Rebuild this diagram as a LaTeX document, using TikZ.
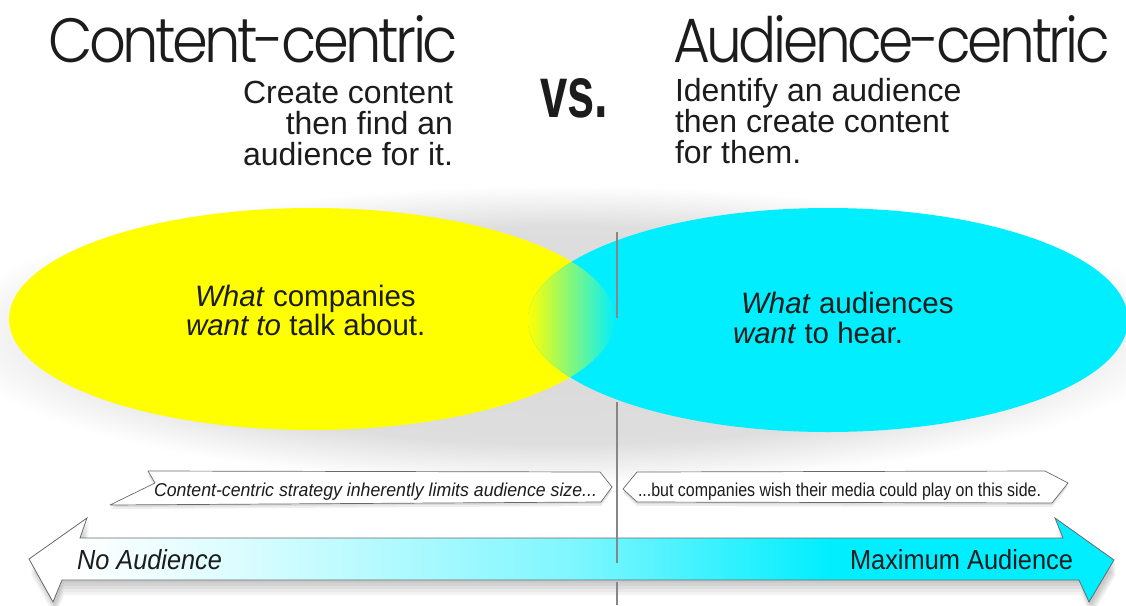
\documentclass[tikz,border=0pt]{standalone}
\usepackage{fontspec}
\setmainfont{Liberation Sans}
\newfontfamily\titlefont[LetterSpace=-6, UprightFont=* Light]{Poppins}
\usetikzlibrary{calc}
\definecolor{yel}{RGB}{255,255,0}
\definecolor{cya}{RGB}{0,238,255}
\definecolor{rim}{RGB}{105,105,105}
\definecolor{ink}{RGB}{28,28,28}
\pgfdeclareradialshading{halo}{\pgfpoint{0bp}{0bp}}{color(0bp)=(black!15); color(18bp)=(black!13); color(25bp)=(white); color(50bp)=(white)}
\pgfdeclarehorizontalshading{barshade}{100bp}{color(0bp)=(white); color(27bp)=(white); color(35bp)=(white!85!cya); color(50bp)=(white!50!cya); color(62bp)=(cya); color(100bp)=(cya)}
\tikzset{
  txt/.style={inner sep=0pt, outer sep=0pt, text=ink},
  sub/.style={txt, font=\fontsize{32}{31}\selectfont},
  blob/.style={txt, font=\fontsize{29.5}{30}\selectfont},
  vline/.style={draw=rim!80, line width=1.4pt},
  callout/.style={fill=white, draw=rim, line width=0.7pt, line join=round},
  calloutshadow/.style={fill=black, opacity=0.07},
  bigarrow/.style={shading=barshade, draw=rim, line width=0.8pt, line join=miter},
  arrowshadow/.style={fill=black, opacity=0.045}
}
\begin{document}
\begin{tikzpicture}[x=1pt, y=-1pt]
\useasboundingbox (0,0) rectangle (1126,605);
\fill[white] (0,0) rectangle (1126,605);

% soft shadow behind the ellipses
\shade[shading=halo] (563,335) ellipse [x radius=620pt, y radius=150pt];

% titles
\node[txt, anchor=base west] (t1) at (48,62) {\resizebox{410pt}{47pt}{\titlefont Content-centric}};
\node[txt, anchor=base west] (t2) at (673,62) {\resizebox{437pt}{47pt}{\titlefont Audience-centric}};
\node[txt, anchor=base west] (vs) at (540,117) {\resizebox{68pt}{39pt}{\bfseries vs.}};

% subtitles (base = last line)
\node[sub, anchor=base east, align=right] (lsub) at (453,165) {Create content\\then find an\\audience for it.};
\node[sub, anchor=base west, align=left] (rsub) at (675,163) {Identify an audience\\then create content\\for them.};

% ellipses
\fill[yel] (312,319) ellipse [x radius=303pt, y radius=111pt];
\fill[cya] (828,320) ellipse [x radius=300pt, y radius=112pt];
\begin{scope}
  \clip (312,319) ellipse [x radius=303pt, y radius=111pt];
  \clip (828,320) ellipse [x radius=300pt, y radius=112pt];
  \shade[left color=yel, right color=cya] (528,200) rectangle (616,440);
\end{scope}

% divider
\coordinate (v1) at (617,232);
\coordinate (v2) at (617,318);
\coordinate (v3) at (617,402);
\coordinate (v4) at (617,563);
\coordinate (v5) at (617,582);
\coordinate (v6) at (617,605);

% ellipse texts
\node[blob, anchor=base west] (y1) at (195,306) {\itshape What\/ \upshape companies};
\node[blob, anchor=base west] (y2) at (186,335) {\itshape want to\/ \upshape talk about.};
\node[blob, anchor=base west] (c1) at (741,313) {\itshape What\/ \upshape audiences};
\node[blob, anchor=base west] (c2) at (733,343) {\itshape want\/ \upshape to hear.};

% callouts
\foreach \s in {2,4}{
  \fill[calloutshadow, shift={(0,\s)}] (148,471) -- (600,472) -- (612,487) -- (601,502) -- (110,505) -- (155,483) -- cycle;
  \fill[calloutshadow, shift={(0,\s)}] (623,489) -- (637,472) -- (1045,471) -- (1068,483) -- (1052,503) -- (637,502) -- cycle;
}
\draw[callout] (148,471) -- (600,472) -- (612,487) -- (601,502) -- (110,505) -- (155,483) -- cycle;
\draw[callout] (623,489) -- (637,472) -- (1045,471) -- (1068,483) -- (1052,503) -- (637,502) -- cycle;
\node[txt, anchor=base west] (k1) at (154,496) {\resizebox{443pt}{13.5pt}{\itshape Content-centric strategy inherently limits audience size...}};
\node[txt, anchor=base west] (k2) at (638,496) {\resizebox{403pt}{13.5pt}{...but companies wish their media could play on this side.}};

% big arrow
\foreach \s in {3,6,9,12,15}{
  \fill[arrowshadow, shift={(2,\s)}] (29,559) -- (87,518) -- (80,538) -- (1063,538) -- (1055,518) -- (1114,560) -- (1089,602) -- (1079,580) -- (62,580) -- (53,602) -- cycle;
}
\path[bigarrow] (29,559) -- (87,518) -- (80,538) -- (1063,538) -- (1055,518) -- (1114,560) -- (1089,602) -- (1079,580) -- (62,580) -- (53,602) -- cycle;

\draw[vline] (v1) -- (v2);
\draw[vline] (v3) -- (v4);
\draw[vline] (v5) -- (v6);

\node[txt, anchor=base west] (na) at (77,569) {\resizebox{145pt}{20pt}{\itshape No Audience}};
\node[txt, anchor=base east] (ma) at (1073,569) {\resizebox{223pt}{20pt}{Maximum Audience}};
\end{tikzpicture}
\end{document}
